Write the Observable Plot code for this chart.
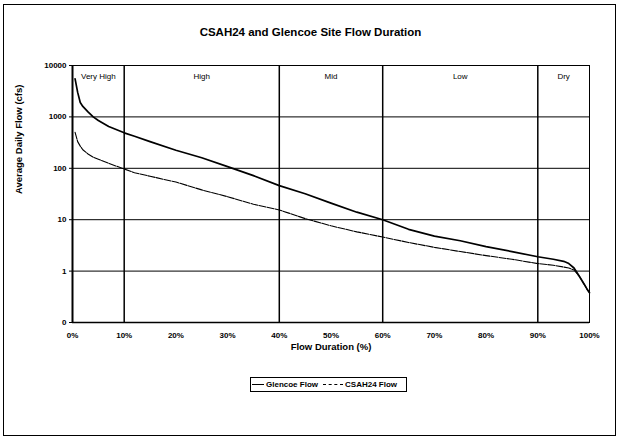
<!DOCTYPE html>
<html>
<head>
<meta charset="utf-8">
<script src="https://cdn.jsdelivr.net/npm/d3@7"></script>
<script src="https://cdn.jsdelivr.net/npm/@observablehq/plot@0.6"></script>
<style>
  body { margin: 0; background: #fff; font-family: "Liberation Sans", Arial, sans-serif; }
  #wrap { position: relative; width: 621px; height: 439px; }
  #frame { position: absolute; left: 3px; top: 4px; width: 613px; height: 432px; border: 1px solid #000; box-sizing: border-box; pointer-events: none; }
  #title { position: absolute; left: 0; width: 621px; top: 26px; text-align: center; font-weight: bold; font-size: 11.5px; }
  #legend { position: absolute; left: 250px; top: 377px; width: 157px; height: 15px; border: 1px solid #000; box-sizing: border-box; font-size: 8px; font-weight: bold; display: flex; align-items: center; white-space: nowrap; }
  #legend .sw { display: inline-block; width: 12px; height: 0; margin: 0 2px 0 1px; }
  #plot { position: absolute; left: 0; top: 0; }
</style>
</head>
<body>
<div id="wrap">
  <div id="plot"></div>
  <div id="title">CSAH24 and Glencoe Site Flow Duration</div>
  <div id="legend">
    <span class="sw" style="border-top:1.6px solid #000;"></span>Glencoe Flow
    <span class="sw" style="border-top:1px dashed #000; width:20px; margin-left:5px;"></span>CSAH24 Flow
  </div>
  <div id="frame"></div>
</div>
<script>
// Flow duration percentages (%)
const durationPct = [0.5, 1, 1.5, 2, 3, 4, 5, 7, 10, 12, 15, 20, 25, 30, 35, 40, 45, 50, 55, 60, 65, 70, 75, 80, 85, 90, 93, 95, 96, 97, 98, 99, 99.5, 100];
// Glencoe average daily flow (cfs)
const glencoeFlow = [5500, 3000, 1900, 1600, 1250, 1000, 850, 650, 490, 420, 330, 225, 160, 108, 72, 46, 32, 21, 14, 10, 6.5, 4.8, 3.9, 3.0, 2.4, 1.9, 1.7, 1.55, 1.4, 1.15, 0.8, 0.55, 0.45, 0.38];
// CSAH24 average daily flow (cfs)
const csah24Flow = [500, 330, 270, 230, 190, 165, 150, 125, 97, 82, 70, 54, 38, 28, 20, 15.5, 10.5, 7.6, 5.8, 4.6, 3.6, 2.9, 2.4, 2.0, 1.7, 1.4, 1.3, 1.2, 1.15, 1.05, 0.8, 0.55, 0.45, 0.38];
// Flow regime zones
const zoneNames = ["Very High", "High", "Mid", "Low", "Dry"];
const zoneStart = [0, 10, 40, 60, 90];
const zoneEnd = [10, 40, 60, 90, 100];
// Axis ticks
const yTicks = [0.1, 1, 10, 100, 1000, 10000];
const xTicks = [0, 10, 20, 30, 40, 50, 60, 70, 80, 90, 100];

const glencoe = durationPct.map((p, i) => ({p, v: glencoeFlow[i]}));
const csah = durationPct.map((p, i) => ({p, v: csah24Flow[i]}));
const zones = zoneNames.map((n, i) => ({n, a: zoneStart[i], b: zoneEnd[i], m: (zoneStart[i] + zoneEnd[i]) / 2}));
const boundaries = zoneStart.slice(1);

const chart = Plot.plot({
  width: 621,
  height: 439,
  marginLeft: 72,
  marginRight: 32,
  marginTop: 65,
  marginBottom: 117,
  style: {fontFamily: "Liberation Sans, Arial, sans-serif", fontSize: "8px", fontWeight: "bold", background: "transparent", overflow: "visible"},
  x: {domain: [0, 100], ticks: xTicks, tickFormat: d => d + "%", tickSize: 0, tickPadding: 10, label: null},
  y: {type: "log", domain: [0.1, 10000], ticks: yTicks, tickFormat: d => d < 1 ? "0" : String(d), tickSize: 3, tickPadding: 3, label: null},
  marks: [
    Plot.ruleY(yTicks.slice(1, -1), {stroke: "#000", strokeWidth: 1}),
    Plot.ruleX(boundaries, {stroke: "#000", strokeWidth: 1.5}),
    Plot.frame({stroke: "#000", strokeWidth: 1}),
    Plot.ruleX([0], {stroke: "#000", strokeWidth: 2}),
    Plot.ruleY([0.1], {stroke: "#000", strokeWidth: 1.5}),
    Plot.text(zones, {x: "m", y: () => 10000, text: "n", dy: 11, fontSize: 8, fontWeight: "normal", fill: "#000"}),
    Plot.line(csah, {x: "p", y: "v", stroke: "#000", strokeWidth: 1.1, strokeDasharray: "7,1.2"}),
    Plot.line(glencoe, {x: "p", y: "v", stroke: "#000", strokeWidth: 1.7}),
    Plot.text(["Flow Duration (%)"], {frameAnchor: "bottom", dy: 27, fontSize: 9.5, fontWeight: "bold"}),
    Plot.text(["Average Daily Flow (cfs)"], {frameAnchor: "left", dx: -54, rotate: -90, fontSize: 9.5, fontWeight: "bold"})
  ]
});
document.getElementById("plot").appendChild(chart);
</script>
</body>
</html>
